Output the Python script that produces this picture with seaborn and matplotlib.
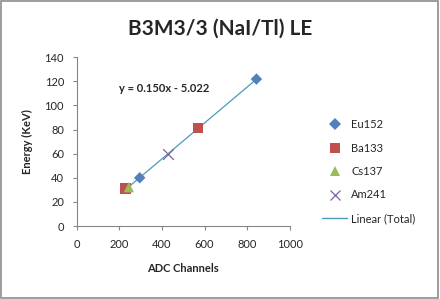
import numpy as np
import pandas as pd
import matplotlib
matplotlib.use("Agg")
import matplotlib.pyplot as plt
import seaborn as sns
from matplotlib.lines import Line2D
from matplotlib.patches import Rectangle

# data
eu_x = [296, 843]
eu_y = [40.0, 121.8]
ba_x = [230, 570]
ba_y = [31.0, 81.0]
cs_x = [245]
cs_y = [32.2]
am_x = [428]
am_y = [59.5]

x_ticks = [0, 200, 400, 600, 800, 1000]
y_ticks = [0, 20, 40, 60, 80, 100, 120, 140]

df = pd.DataFrame({
    "adc": eu_x + ba_x + cs_x + am_x,
    "energy": eu_y + ba_y + cs_y + am_y,
    "source": ["Eu152"] * 2 + ["Ba133"] * 2 + ["Cs137"] + ["Am241"],
})

sns.set_theme(style="white")
plt.rcParams["font.family"] = ["Lato", "DejaVu Sans"]

colors = {"Eu152": "#4F81BD", "Ba133": "#C0504D", "Cs137": "#9BBB59", "Am241": "#8064A2"}
markers = {"Eu152": "D", "Ba133": "s", "Cs137": "^", "Am241": "x"}
sizes = {"Eu152": 34, "Ba133": 55, "Cs137": 55, "Am241": 60}
line_col = "#4A9BB8"

fig = plt.figure(figsize=(4.4, 2.99), dpi=100)
fig.patches.append(Rectangle((0.002, 0.003), 0.994, 0.993, transform=fig.transFigure,
                             fill=False, edgecolor="#8C8C8C", linewidth=1.2))
ax = fig.add_axes([0.174, 0.244, 0.485, 0.565])

# trendline over all points
sns.regplot(data=df, x="adc", y="energy", ci=None, scatter=False, ax=ax,
            line_kws={"color": line_col, "linewidth": 0.9})

for name in ["Eu152", "Ba133", "Cs137", "Am241"]:
    sub = df[df["source"] == name]
    kw = dict(edgecolor="none") if name != "Am241" else dict(linewidth=0.9)
    ax.scatter(sub["adc"], sub["energy"], marker=markers[name], s=sizes[name],
               color=colors[name], zorder=3, **kw)

ax.set_xlim(0, 1000)
ax.set_ylim(0, 140)
ax.set_xticks(x_ticks)
ax.set_yticks(y_ticks)
ax.tick_params(axis="both", labelsize=8, length=3, width=0.8, color="#868686",
               direction="out", pad=6, bottom=True, left=True)
for s in ["top", "right"]:
    ax.spines[s].set_visible(False)
for s in ["left", "bottom"]:
    ax.spines[s].set_color("#868686")
    ax.spines[s].set_linewidth(0.8)
ax.set_xlabel("ADC Channels", fontsize=8, fontweight="bold", labelpad=10)
ax.set_ylabel("Energy (KeV)", fontsize=8, fontweight="bold", labelpad=8)

ax.text(197, 114, "y = 0.150x - 5.022", fontsize=8, fontweight="bold", ha="left", va="center")

fig.text(0.5, 0.905, "B3M3/3 (NaI/Tl) LE", fontsize=15, fontweight="bold", ha="center", va="center")

handles = [
    Line2D([], [], marker="D", linestyle="none", color=colors["Eu152"], markersize=5.8, markeredgewidth=0),
    Line2D([], [], marker="s", linestyle="none", color=colors["Ba133"], markersize=7, markeredgewidth=0),
    Line2D([], [], marker="^", linestyle="none", color=colors["Cs137"], markersize=7, markeredgewidth=0),
    Line2D([], [], marker="x", linestyle="none", color=colors["Am241"], markersize=7, markeredgewidth=0.9),
    Line2D([], [], color=line_col, linewidth=1.0),
]
labels = ["Eu152", "Ba133", "Cs137", "Am241", "Linear (Total)"]
fig.legend(handles, labels, loc="upper left", bbox_to_anchor=(0.71, 0.635), frameon=False,
           fontsize=8, labelspacing=1.12, handlelength=2.2, handletextpad=0.4)

fig.savefig("out.png", dpi=100)
